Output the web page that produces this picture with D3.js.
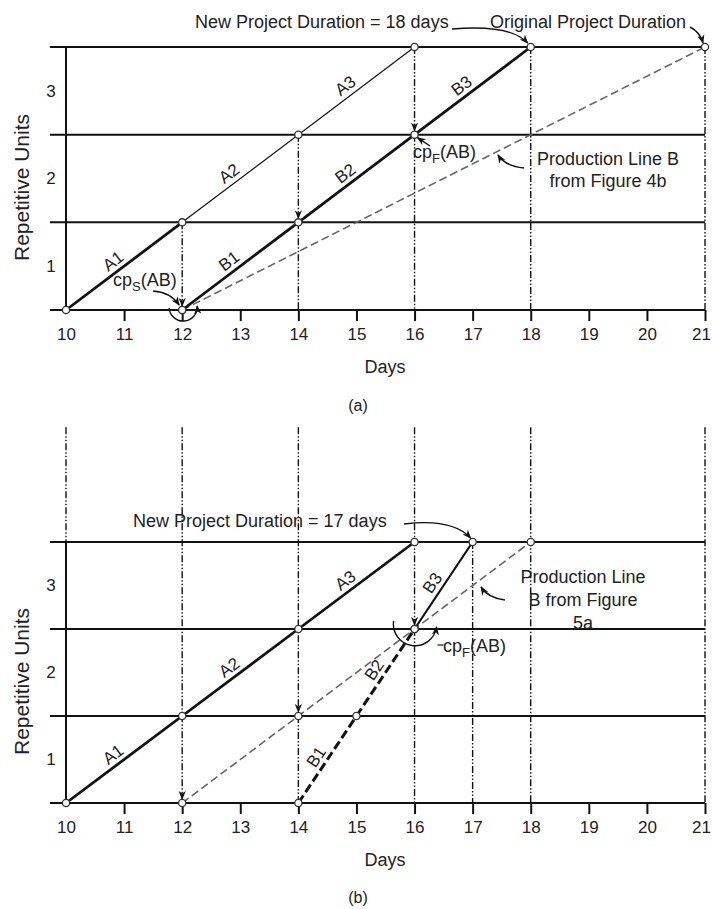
<!DOCTYPE html>
<html>
<head>
<meta charset="utf-8">
<script src="https://cdn.jsdelivr.net/npm/d3@7"></script>
<style>
  body { margin: 0; background: #fff; }
  svg text { font-family: "Liberation Sans", Arial, sans-serif; fill: #222; }
</style>
</head>
<body>
<div id="chart"></div>
<script>
// ---- data ----
var days = [10, 11, 12, 13, 14, 15, 16, 17, 18, 19, 20, 21];
var unitLines = [0, 1, 2, 3];
var unitLabels = [1, 2, 3];
var segNamesA = ["A1", "A2", "A3"];
var segNamesB = ["B1", "B2", "B3"];

// (a) activity A and B production lines, [day, unit]
var lineA_a = [[10, 0], [12, 1], [14, 2], [16, 3]];
var lineB_a = [[12, 0], [14, 1], [16, 2], [18, 3]];
var prodB_a = [[12, 0], [21, 3]];          // production line B from figure 4b
var guideDay_a = [12, 14, 16, 18, 21];
var guideTop_a = [1, 2, 3, 3, 3];
var guideBottom_a = [0, 0, 0, 0, 0];
var guideArrow_a = [0, 1, 2, null, null];

// (b)
var lineA_b = [[10, 0], [12, 1], [14, 2], [16, 3]];
var lineB_b = [[14, 0], [15, 1], [16, 2], [17, 3]];
var prodB_b = [[12, 0], [18, 3]];          // production line B from figure 5a
var guideDay_b = [10, 12, 14, 16, 17, 18, 21];
var guideTop_b = [4.32, 4.32, 4.32, 4.32, 3, 4.32, 4.32];
var guideBottom_b = [3, 0, 0, 0, 0, 0, 0];
var guideArrow_b = [null, 0, 1, 2, null, null, null];

var width = 712, height = 909;
var font = 18;

var svg = d3.select("#chart").append("svg")
    .attr("width", width)
    .attr("height", height);

var defs = svg.append("defs");
defs.append("marker")
    .attr("id", "arrow")
    .attr("viewBox", "0 0 10 10")
    .attr("refX", 9).attr("refY", 5)
    .attr("markerWidth", 9).attr("markerHeight", 9)
    .attr("markerUnits", "userSpaceOnUse")
    .attr("orient", "auto")
    .append("path")
    .attr("d", "M0,1 L10,5 L0,9 L3,5 Z")
    .attr("fill", "#111");

var x = d3.scaleLinear().domain([10, 21]).range([66, 705]);

function drawPanel(cfg) {
    var y = d3.scaleLinear().domain([0, 3]).range([cfg.y0, cfg.y3]);
    var g = svg.append("g");

    // dash-dot guides
    cfg.guideDay.forEach(function(d, i) {
        var top = cfg.guideTop[i], bot = cfg.guideBottom[i], arr = cfg.guideArrow[i];
        var style = function(sel) {
            return sel.attr("stroke", "#111").attr("stroke-width", 1.4)
                .attr("stroke-dasharray", "7,2,1.5,2,1.5,2");
        };
        if (arr === null) {
            style(g.append("line")
                .attr("x1", x(d)).attr("x2", x(d))
                .attr("y1", y(top)).attr("y2", y(bot)));
        } else {
            style(g.append("line")
                .attr("x1", x(d)).attr("x2", x(d))
                .attr("y1", y(top)).attr("y2", y(arr) - 4))
                .attr("marker-end", "url(#arrow)");
            if (arr > bot) {
                style(g.append("line")
                    .attr("x1", x(d)).attr("x2", x(d))
                    .attr("y1", y(arr)).attr("y2", y(bot)));
            }
        }
    });

    // horizontal unit lines
    g.selectAll(".hline").data(unitLines).enter().append("line")
        .attr("x1", x(10) - 16).attr("x2", x(21))
        .attr("y1", function(d) { return y(d); })
        .attr("y2", function(d) { return y(d); })
        .attr("stroke", "#111").attr("stroke-width", 2);

    // vertical axis
    g.append("line")
        .attr("x1", x(10)).attr("x2", x(10))
        .attr("y1", y(3)).attr("y2", y(0))
        .attr("stroke", "#111").attr("stroke-width", 2);

    // x axis ticks and labels
    var axis = d3.axisBottom(x).tickValues(days).tickSize(11).tickPadding(7)
        .tickFormat(d3.format("d"));
    var ax = g.append("g").attr("transform", "translate(0," + y(0) + ")").call(axis);
    ax.select(".domain").remove();
    ax.selectAll(".tick line").attr("stroke", "#111").attr("stroke-width", 2)
        .attr("display", function(d) { return d === 10 ? "none" : null; });
    ax.selectAll(".tick text").attr("font-size", 17).attr("fill", "#222")
        .attr("font-family", "Liberation Sans, Arial, sans-serif")
        .attr("dx", function(d) { return d === 21 ? -4 : 0; });

    // y labels, centred in bands
    g.selectAll(".ylab").data(unitLabels).enter().append("text")
        .attr("x", x(10) - 15)
        .attr("y", function(d) { return y(d - 0.5); })
        .attr("dy", "0.35em")
        .attr("text-anchor", "middle")
        .attr("font-size", 17)
        .text(function(d) { return d; });

    g.append("text")
        .attr("transform", "translate(29," + ((y(0) + y(3)) / 2 + 9) + ") rotate(-90)")
        .attr("text-anchor", "middle")
        .attr("font-size", 21)
        .text("Repetitive Units");

    g.append("text")
        .attr("x", 385).attr("y", y(0) + 63)
        .attr("text-anchor", "middle")
        .attr("font-size", font)
        .text("Days");

    g.append("text")
        .attr("x", 358).attr("y", y(0) + cfg.captionDy)
        .attr("text-anchor", "middle")
        .attr("font-size", 16)
        .text(cfg.caption);

    // production line B (previous figure)
    var line = d3.line().x(function(d) { return x(d[0]); }).y(function(d) { return y(d[1]); });
    g.append("path").datum(cfg.prodB)
        .attr("d", line)
        .attr("fill", "none")
        .attr("stroke", "#666").attr("stroke-width", 1.6)
        .attr("stroke-dasharray", "8,4");

    // segments
    function segments(pts, names, styleFn) {
        var segs = [];
        for (var i = 0; i < pts.length - 1; i++) {
            segs.push({ a: pts[i], b: pts[i + 1], name: names[i], i: i });
        }
        segs.forEach(function(s) {
            var st = styleFn(s.i);
            g.append("line")
                .attr("x1", x(s.a[0])).attr("y1", y(s.a[1]))
                .attr("x2", x(s.b[0])).attr("y2", y(s.b[1]))
                .attr("stroke", "#111")
                .attr("stroke-width", st.w)
                .attr("stroke-dasharray", st.dash || null);
            var px1 = x(s.a[0]), py1 = y(s.a[1]), px2 = x(s.b[0]), py2 = y(s.b[1]);
            var t = 0.46;
            var cx = px1 + (px2 - px1) * t, cy = py1 + (py2 - py1) * t;
            var ang = Math.atan2(py2 - py1, px2 - px1) * 180 / Math.PI;
            g.append("text")
                .attr("transform", "translate(" + cx + "," + cy + ") rotate(" + ang + ")")
                .attr("text-anchor", "middle")
                .attr("dy", -5)
                .attr("font-size", 17)
                .text(s.name);
        });
    }
    segments(cfg.lineA, segNamesA, cfg.styleA);
    segments(cfg.lineB, segNamesB, cfg.styleB);

    // nodes
    var nodes = cfg.lineA.concat(cfg.lineB).concat(cfg.prodB).concat(cfg.extraNodes || []);
    g.selectAll(".node").data(nodes).enter().append("circle")
        .attr("cx", function(d) { return x(d[0]); })
        .attr("cy", function(d) { return y(d[1]); })
        .attr("r", 3.6)
        .attr("fill", "#fff")
        .attr("stroke", "#333").attr("stroke-width", 1.3);

    return { g: g, y: y };
}

function arrowPath(g, d) {
    g.append("path").attr("d", d)
        .attr("fill", "none").attr("stroke", "#111").attr("stroke-width", 1.4)
        .attr("marker-end", "url(#arrow)");
}

function cpLabel(g, px, py, sub) {
    var t = g.append("text").attr("x", px).attr("y", py).attr("font-size", font);
    t.append("tspan").text("cp");
    t.append("tspan").attr("font-size", 13).attr("dy", 5).text(sub);
    t.append("tspan").attr("dy", -5).text("(AB)");
}

// ---- panel (a) ----
var pa = drawPanel({
    y0: 310, y3: 47,
    lineA: lineA_a, lineB: lineB_a, prodB: prodB_a,
    guideDay: guideDay_a, guideTop: guideTop_a, guideBottom: guideBottom_a, guideArrow: guideArrow_a,
    styleA: function(i) { return { w: i === 0 ? 2.8 : 1.2 }; },
    styleB: function() { return { w: 2.8 }; },
    caption: "(a)", captionDy: 101
});
(function() {
    var g = pa.g, y = pa.y;
    g.append("text").attr("x", 195).attr("y", 28).attr("font-size", font)
        .text("New Project Duration = 18 days");
    arrowPath(g, "M452,29 Q510,24 " + (x(18) - 3) + "," + (y(3) - 4));
    g.append("text").attr("x", 490).attr("y", 28).attr("font-size", font)
        .text("Original Project Duration");
    arrowPath(g, "M690,27 Q700,32 " + (x(21) - 2) + "," + (y(3) - 4));

    cpLabel(g, 413, 158, "F");
    arrowPath(g, "M430,146 L" + (x(16) + 3) + "," + (y(2) + 3));

    g.append("text").attr("x", 608).attr("y", 165).attr("text-anchor", "middle")
        .attr("font-size", font).text("Production Line B");
    g.append("text").attr("x", 608).attr("y", 187).attr("text-anchor", "middle")
        .attr("font-size", font).text("from Figure 4b");
    arrowPath(g, "M524,168 Q505,166 498,155");

    cpLabel(g, 113, 286, "S");
    arrowPath(g, "M153,291 Q170,292 " + (x(12) - 3) + "," + (y(0) - 5));
    // rotation arc around start point
    var cx = x(12), cy = y(0), r = 13;
    arrowPath(g, "M" + (cx - r) + "," + (cy - 2) + " A" + r + "," + r + " 0 1 0 " + (cx + r + 2) + "," + (cy - 4));
})();

// ---- panel (b) ----
var pb = drawPanel({
    y0: 803, y3: 542,
    lineA: lineA_b, lineB: lineB_b, prodB: prodB_b,
    guideDay: guideDay_b, guideTop: guideTop_b, guideBottom: guideBottom_b, guideArrow: guideArrow_b,
    styleA: function() { return { w: 2.8 }; },
    styleB: function(i) { return i < 2 ? { w: 3, dash: "9,4" } : { w: 2.2 }; },
    extraNodes: [[14, 1], [16, 2]],
    caption: "(b)", captionDy: 100
});
(function() {
    var g = pb.g, y = pb.y;
    g.append("text").attr("x", 133).attr("y", 527).attr("font-size", font)
        .text("New Project Duration = 17 days");
    arrowPath(g, "M404,524 Q452,518 " + (x(17) - 2) + "," + (y(3) - 4));

    var lines = ["Production Line", "B from Figure", "5a"];
    lines.forEach(function(s, i) {
        g.append("text").attr("x", 583).attr("y", 583 + i * 23)
            .attr("text-anchor", "middle").attr("font-size", font).text(s);
    });
    arrowPath(g, "M505,600 Q488,598 481,587");

    var cx = x(16), cy = y(2), r = 21;
    arrowPath(g, "M" + (cx - r) + "," + (cy - 8) + " A" + r + "," + r + " 0 1 0 " + (cx + r + 1) + "," + (cy - 2));
    g.append("line").attr("x1", cx + r + 2).attr("x2", cx + r + 8)
        .attr("y1", cy + 16).attr("y2", cy + 16).attr("stroke", "#111").attr("stroke-width", 1.2);
    cpLabel(g, 443, 652, "F");
})();
</script>
</body>
</html>
